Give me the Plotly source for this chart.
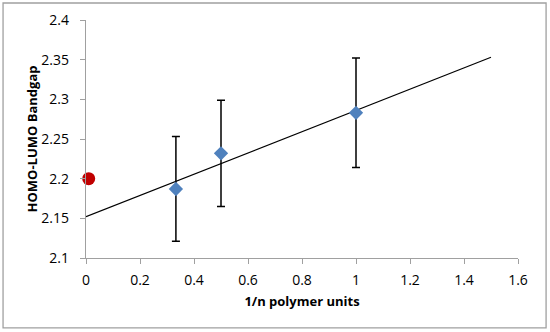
import plotly.graph_objects as go

# Data
x_vals = [0.333, 0.5, 1.0]
y_vals = [2.187, 2.232, 2.283]
y_err = [0.066, 0.067, 0.069]
ref_x = [0.01]
ref_y = [2.2]
trend_x = [0.0, 1.5]
trend_y = [2.152, 2.353]
x_ticks = [0, 0.2, 0.4, 0.6, 0.8, 1, 1.2, 1.4, 1.6]
y_ticks = [2.1, 2.15, 2.2, 2.25, 2.3, 2.35, 2.4]

fig = go.Figure()
fig.add_trace(go.Scatter(x=trend_x, y=trend_y, mode="lines",
                         line=dict(color="black", width=1.2), showlegend=False))
fig.add_trace(go.Scatter(x=x_vals, y=y_vals, mode="markers",
                         marker=dict(symbol="diamond", color="#4F81BD", size=11),
                         error_y=dict(type="data", array=y_err, color="black",
                                      thickness=1.5, width=4),
                         showlegend=False))
fig.add_trace(go.Scatter(x=ref_x, y=ref_y, mode="markers", cliponaxis=False,
                         marker=dict(symbol="circle", color="#C00000", size=13),
                         showlegend=False))

font_family = "Open Sans, Liberation Sans, sans-serif"
fig.update_layout(
    width=550, height=332,
    margin=dict(l=86, r=32, t=20, b=74),
    plot_bgcolor="white", paper_bgcolor="white",
    font=dict(family=font_family, color="black"),
    xaxis=dict(range=[0, 1.6], tickvals=x_ticks, ticktext=[str(v) for v in x_ticks],
               showline=True, linecolor="#A0A0A0", linewidth=1.3,
               ticks="outside", ticklen=5, tickcolor="#A0A0A0",
               showgrid=False, zeroline=False, tickfont=dict(size=14),
               ticklabelstandoff=4, automargin=False,
               title=dict(text="<b>1/n polymer units</b>", font=dict(size=13), standoff=8)),
    yaxis=dict(range=[2.1, 2.4], tickvals=y_ticks, ticktext=[str(v) for v in y_ticks],
               showline=True, linecolor="#A0A0A0", linewidth=1.3,
               ticks="outside", ticklen=5, tickcolor="#A0A0A0",
               showgrid=False, zeroline=False, tickfont=dict(size=14),
               ticklabelstandoff=8, automargin=False,
               title=dict(text="<b>HOMO-LUMO Bandgap</b>", font=dict(size=13), standoff=0)),
    shapes=[dict(type="rect", xref="paper", yref="paper",
                 x0=-0.192, x1=1.065, y0=-0.294, y1=1.0714,
                 line=dict(color="#A0A0A0", width=1.3))],
)

fig.write_html("out.html", config={"displayModeBar": False},
               post_script="document.body.style.margin='0';")
